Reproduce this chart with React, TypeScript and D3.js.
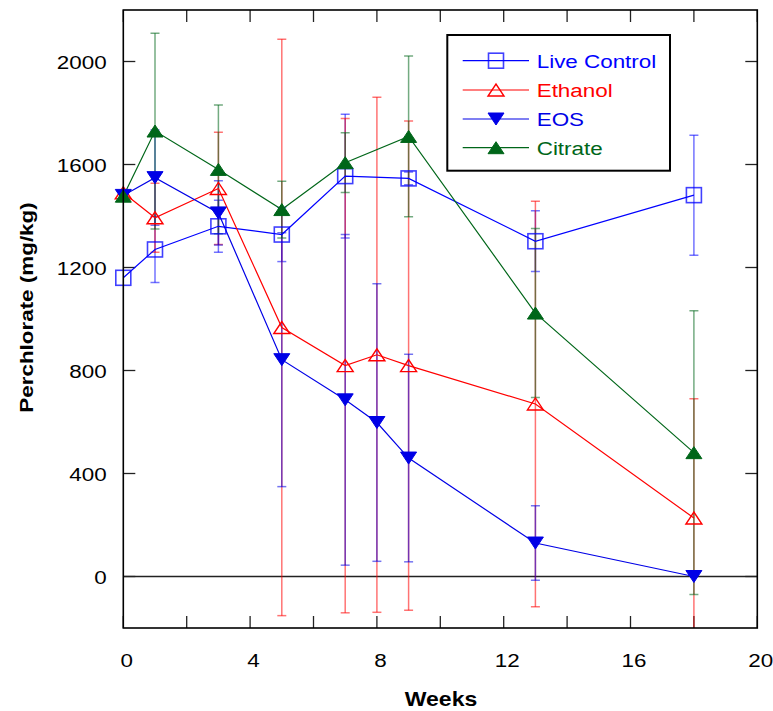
import React from "react";
import * as d3 from "d3";

const xTicks = [0, 4, 8, 12, 16, 20];
const xMinorTicks = [0, 2, 4, 6, 8, 10, 12, 14, 16, 18, 20];
const yTicks = [0, 400, 800, 1200, 1600, 2000];

const liveWeeks = [0, 1, 3, 5, 7, 9, 13, 18];
const liveValues = [1160, 1270, 1360, 1328, 1555, 1546, 1302, 1481];
const liveErr = [0, 128, 101, 105, 240, 25, 118, 233];

const ethWeeks = [0, 1, 3, 5, 7, 8, 9, 13, 18];
const ethValues = [1490, 1393, 1507, 967, 819, 861, 819, 670, 227];
const ethErr = [0, 134, 218, 1119, 960, 1000, 950, 787, 463];

const eosWeeks = [0, 1, 3, 5, 7, 8, 9, 13, 18];
const eosValues = [1480, 1549, 1412, 842, 686, 598, 460, 130, 0];
const eosErr = [0, 185, 125, 493, 642, 539, 403, 145, 0];

const citWeeks = [0, 1, 3, 5, 7, 9, 13, 18];
const citValues = [1477, 1730, 1581, 1425, 1607, 1709, 1023, 481];
const citErr = [0, 380, 250, 110, 116, 312, 328, 551];

const BLUE = "#0000ff";
const RED = "#ff0000";
const GREEN = "#006619";
const FONT = "'Liberation Sans', Arial, Helvetica, sans-serif";
const SX = 1.18;

type Series = {
  name: string;
  weeks: number[];
  values: number[];
  err: number[];
  color: string;
  marker: "square" | "triUpOpen" | "triDown" | "triUp";
};

const series: Series[] = [
  { name: "Live Control", weeks: liveWeeks, values: liveValues, err: liveErr, color: BLUE, marker: "square" },
  { name: "Ethanol", weeks: ethWeeks, values: ethValues, err: ethErr, color: RED, marker: "triUpOpen" },
  { name: "EOS", weeks: eosWeeks, values: eosValues, err: eosErr, color: "#0000e6", marker: "triDown" },
  { name: "Citrate", weeks: citWeeks, values: citValues, err: citErr, color: GREEN, marker: "triUp" },
];

const L = 123.3, R = 757.3, T = 10, B = 628;
const x = d3.scaleLinear().domain([0, 20]).range([L, R]);
const y = d3.scaleLinear().domain([-200, 2200]).range([B, T]);

function Marker({ kind, cx, cy, color }: { kind: string; cx: number; cy: number; color: string }) {
  const w = 16, h = 12, s = 15;
  if (kind === "square") {
    return <rect x={cx - s / 2} y={cy - s / 2} width={s} height={s} fill="none" stroke={color} strokeOpacity={0.75} strokeWidth={1.6} />;
  }
  if (kind === "triUpOpen") {
    const p = `M${cx - w / 2},${cy + h / 2}L${cx + w / 2},${cy + h / 2}L${cx},${cy - h / 2}Z`;
    return <path d={p} fill="none" stroke={color} strokeWidth={1.4} />;
  }
  if (kind === "triDown") {
    const p = `M${cx - w / 2},${cy - h / 2}L${cx + w / 2},${cy - h / 2}L${cx},${cy + h / 2}Z`;
    return <path d={p} fill={color} stroke={color} strokeWidth={1} />;
  }
  const p = `M${cx - w / 2},${cy + h / 2}L${cx + w / 2},${cy + h / 2}L${cx},${cy - h / 2}Z`;
  return <path d={p} fill={color} stroke={color} strokeWidth={1} />;
}

export default function App() {
  const line = d3.line<[number, number]>().x((d) => x(d[0])).y((d) => y(d[1]));
  const legendY = [60.7, 90, 119, 147.7];
  return (
    <svg width={773} height={711} style={{ position: "absolute", left: 0, top: 0, background: "#fff" }} fontFamily={FONT}>
      <defs>
        <clipPath id="plot">
          <rect x={L} y={T} width={R - L} height={B - T} />
        </clipPath>
      </defs>
      <rect x={0} y={0} width={773} height={711} fill="#fff" />
      {/* zero line */}
      <line x1={L} x2={R} y1={y(0)} y2={y(0)} stroke="#222" strokeWidth={1.3} />
      {/* ticks */}
      {xMinorTicks.map((t) => (
        <g key={"xt" + t}>
          <line x1={x(t)} x2={x(t)} y1={B} y2={B - 12} stroke="#222" strokeWidth={1.3} />
          <line x1={x(t)} x2={x(t)} y1={T} y2={T + 12} stroke="#222" strokeWidth={1.3} />
        </g>
      ))}
      {yTicks.map((t) => (
        <g key={"yt" + t}>
          <line x1={L} x2={L + 12} y1={y(t)} y2={y(t)} stroke="#222" strokeWidth={1.3} />
          <line x1={R} x2={R - 12} y1={y(t)} y2={y(t)} stroke="#222" strokeWidth={1.3} />
        </g>
      ))}
      {/* error bars */}
      <g clipPath="url(#plot)">
        {series.map((s) =>
          s.weeks.map((w, i) =>
            s.err[i] > 0 ? (
              <g key={s.name + "e" + i} stroke={s.color} strokeOpacity={0.55} strokeWidth={1.5}>
                <line x1={x(w)} x2={x(w)} y1={y(s.values[i] - s.err[i])} y2={y(s.values[i] + s.err[i])} />
                <line x1={x(w) - 4.5} x2={x(w) + 4.5} y1={y(s.values[i] + s.err[i])} y2={y(s.values[i] + s.err[i])} />
                <line x1={x(w) - 4.5} x2={x(w) + 4.5} y1={y(s.values[i] - s.err[i])} y2={y(s.values[i] - s.err[i])} />
              </g>
            ) : null
          )
        )}
      </g>
      {/* lines */}
      {series.map((s) => (
        <path
          key={s.name + "l"}
          d={line(s.weeks.map((w, i) => [w, s.values[i]] as [number, number])) || ""}
          fill="none"
          stroke={s.color}
          strokeWidth={1.2}
        />
      ))}
      {/* markers */}
      {series.map((s) =>
        s.weeks.map((w, i) => <Marker key={s.name + "m" + i} kind={s.marker} cx={x(w)} cy={y(s.values[i])} color={s.color} />)
      )}
      {/* frame */}
      <rect x={L} y={T} width={R - L} height={B - T} fill="none" stroke="#000" strokeWidth={1.6} />
      {/* tick labels */}
      {xTicks.map((t) => (
        <text key={"xl" + t} transform={`translate(${x(t) + 3.5},667) scale(${SX},1)`} textAnchor="middle" fontSize={19} fill="#000">
          {t}
        </text>
      ))}
      {yTicks.map((t) => (
        <text key={"yl" + t} transform={`translate(106.7,${y(t) + 7.7}) scale(${SX},1)`} textAnchor="end" fontSize={19} fill="#000">
          {t}
        </text>
      ))}
      {/* axis titles */}
      <text transform={`translate(441,705.5) scale(${SX},1)`} textAnchor="middle" fontSize={19.5} fontWeight="bold" fill="#000">
        Weeks
      </text>
      <text transform={`translate(33,307.5) rotate(-90) scale(${SX},1)`} textAnchor="middle" fontSize={19} fontWeight="bold" fill="#000">
        Perchlorate (mg/kg)
      </text>
      {/* legend */}
      <rect x={447.3} y={35} width={222.7} height={135.7} fill="#fff" stroke="#000" strokeWidth={2} />
      {series.map((s, i) => (
        <g key={s.name + "lg"}>
          <line x1={462.7} x2={529} y1={legendY[i]} y2={legendY[i]} stroke={s.color} strokeWidth={1.2} />
          <Marker kind={s.marker} cx={496} cy={legendY[i]} color={s.color} />
          <text transform={`translate(536.7,${legendY[i] + 7}) scale(${SX},1)`} fontSize={19} fill={s.color}>
            {s.name}
          </text>
        </g>
      ))}
    </svg>
  );
}
